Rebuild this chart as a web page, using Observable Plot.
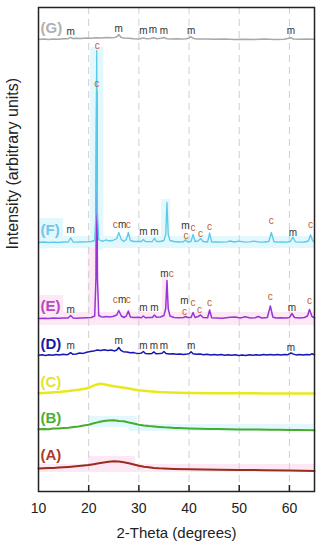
<!DOCTYPE html>
<html><head><meta charset="utf-8">
<script src="https://cdn.jsdelivr.net/npm/d3@7"></script>
<script src="https://cdn.jsdelivr.net/npm/@observablehq/plot@0.6"></script>
<style>
body{margin:0;background:#fff;}
#chart svg{display:block;font-family:"Liberation Sans",Arial,sans-serif;}
</style></head><body><div id="chart"></div>
<script>
// ---- data (2-theta in degrees, intensity in arbitrary units) ----
const xTicks = [10, 20, 30, 40, 50, 60];
const gridTicks = [20, 30, 40, 50, 60];
const sampleNames = ["(A)", "(B)", "(C)", "(D)", "(E)", "(F)", "(G)"];
const sampleColors = ["#9a2c1c", "#45ad2a", "#e8e81c", "#1616b4", "#9a34d6", "#5cc8ea", "#a8a8a8"];
const labelColors = ["#b03a22", "#4aae2e", "#e4e42a", "#1a1aa4", "#b848c0", "#70c6ea", "#b0b0b0"];
const strokeWidths = [2, 2, 2.5, 1.5, 1.5, 1.3, 1.5];
const offsets = [22, 62, 98, 137, 173, 249, 453];
const labelHeights = [14, 11.7, 11.3, 10.7, 12, 12.7, 10];

const traceA = [[10,1],[11,1.2],[12,1.5],[13,1.6],[14,2],[15,2.3],[16,2.6],[17,3],[18,3.4],[19,3.9],[20,4.5],[21,5.3],[22,6.2],[23,7],[24,7.8],[25,8.3],[26,8],[27,7.2],[28,6.2],[29,5],[30,3.8],[31,2.8],[32,2.2],[33,1.6],[34,1.2],[35,1],[37,0.6],[40,0.2],[43,0],[46,-0.2],[50,-0.4],[55,-0.7],[60,-1],[65,-1.5]];
const traceB = [[10,0.3],[11,0.6],[12,0.3],[13,1],[14,0.9],[15,1.6],[16,1.8],[17,2.6],[18,3],[19,4],[20,4.8],[21,6.2],[22,7.4],[23,8.4],[24,9.1],[25,9.2],[26,8.6],[27,8.2],[28,7],[29,6],[30,4.8],[31,4],[32,3.4],[33,3],[34,2.6],[35,2.2],[36,2],[37,1.6],[38,1.4],[39,1.2],[40,1],[42,0.8],[44,0.5],[46,0.4],[48,0.2],[50,0.1],[52,0],[54,-0.1],[56,-0.2],[58,-0.3],[60,-0.4],[62,-0.5],[65,-0.7]];
const traceC = [[10,0.3],[12,0.8],[14,1.5],[16,2.5],[18,3.8],[19.5,5],[20.5,6.8],[21.5,8.8],[22.3,9.8],[23,9.3],[24,8.2],[25,7.3],[26,6.5],[27,5.8],[28,5],[29,4],[30,3.2],[32,2.2],[34,1.5],[36,1.1],[38,0.8],[40,0.6],[45,0.3],[50,0.2],[55,0.1],[60,0],[65,0]];
const traceD = [[10,-0.8],[10.7,-0.2],[11.4,-0.9],[12.1,-0.3],[12.8,-0.7],[13.5,0],[14.2,-0.5],[14.9,0.2],[15.6,-0.2],[16,0.3],[16.4,1.8],[16.8,0.3],[17.5,0.6],[18.2,1.4],[18.9,1.1],[19.6,2.2],[20.3,2.9],[21,3.4],[21.7,4.5],[22.4,4.1],[23.1,4.8],[23.8,4],[24.5,4.4],[25.2,3.6],[25.6,4.5],[26,7],[26.4,4.2],[26.9,2.8],[27.6,2.6],[28.3,1.7],[29,1.9],[29.7,0.9],[30.4,1.2],[30.9,3],[31.3,1],[32,0.7],[32.6,1.1],[33,2.6],[33.4,0.8],[34.1,0.9],[34.6,1.2],[35,3],[35.4,1],[36.1,0.4],[36.8,0.8],[37.5,0.2],[38.2,0.6],[38.9,0.1],[39.6,0.5],[40,0.8],[40.4,2.8],[40.8,0.7],[41.5,0.2],[42.2,0.5],[42.9,-0.2],[43.6,0.3],[44.3,-0.4],[45,0],[45.7,-0.6],[46.4,-0.1],[47.1,-0.7],[47.8,-0.2],[48.5,-0.8],[49.2,-0.3],[49.9,-0.9],[50.6,-0.4],[51.3,-0.9],[52,-0.3],[52.7,-0.8],[53.4,-0.2],[54.1,-0.7],[54.8,0.1],[55.5,-0.5],[56.2,-0.1],[56.9,-0.6],[57.6,0],[58.3,-0.5],[59,0.1],[59.7,-0.2],[60.3,1.5],[60.7,0.6],[61.3,-0.4],[62,0.1],[62.7,-0.5],[63.4,0],[64.1,-0.3],[64.5,0.8],[65,-0.2]];
const traceE = [[10,0],[11,0.3],[12,0],[13,0.5],[14,0.2],[15,0.4],[15.9,0.5],[16.4,3],[16.9,0.5],[17.5,0.3],[18.5,0.5],[19.5,0.8],[20.5,1],[21.2,2.5],[21.45,40],[21.6,228],[21.75,40],[22,3],[22.5,1.8],[23,1.5],[23.5,2],[24,1.5],[24.8,2],[25.6,3.5],[26,8],[26.5,2.5],[27,1],[27.5,2.5],[27.9,7.5],[28.3,1.5],[29,1],[30,1.2],[30.5,0.8],[30.9,2.5],[31.3,0.8],[32,1],[32.7,1],[33.1,3.5],[33.5,1.2],[34.3,1.5],[35,3],[35.35,10],[35.6,38],[35.85,10],[36.2,2.5],[37,1],[38,0.8],[38.9,1],[39.3,2],[39.7,1],[40.4,1],[40.8,6],[41.2,1],[41.8,2],[42.3,3.5],[42.8,1],[43.7,0.8],[44.1,8.5],[44.5,0.8],[45.5,0.5],[46.5,0.3],[47.5,0.8],[48.2,1.2],[49.2,1.5],[50.2,0.5],[51.2,1.8],[52.2,0.5],[53.2,0.8],[53.8,2],[54.5,0.5],[55.6,1],[56.2,12.5],[56.7,1.5],[57.3,0.5],[58.3,0.7],[59.3,0.5],[60,1],[60.5,5],[61,1],[62,0.5],[63,1],[63.6,2.5],[64,9],[64.5,2],[65,0.5]];
const traceF = [[10,0],[11,0.5],[12,0],[13,0.3],[14,0],[15,0.5],[15.9,0.3],[16.4,4.7],[16.9,0.5],[17.5,0.3],[18.5,0.5],[19.5,0.7],[20.5,1],[21.2,2],[21.45,30],[21.6,192],[21.75,30],[22,3],[22.5,1.5],[23,1.5],[23.5,2.7],[24,1.5],[24.8,2],[25.6,4],[26,10],[26.5,3],[27,1],[27.5,3],[27.9,10],[28.3,2],[29,1],[30,1],[30.5,1],[30.9,3],[31.3,1],[32,0.8],[32.7,1],[33.1,4.3],[33.5,1],[34.3,1],[35,2],[35.35,8],[35.6,40],[35.85,8],[36.2,2],[37,1],[38,0.5],[38.9,0.7],[39.3,2.7],[39.7,0.5],[40.4,1],[40.8,8],[41.2,1],[41.8,1.5],[42.3,4],[42.8,1],[43.7,0.5],[44.1,9.7],[44.5,0.5],[45.5,0.5],[46.5,0.3],[47.5,0.7],[48.2,1.5],[49,0.5],[50,1.3],[51,0.3],[52,0.7],[53,1.3],[54,0.3],[55,0.5],[55.9,1],[56.4,10],[56.9,1],[57.5,0.3],[58.5,0.5],[59.5,0.3],[60.2,1],[60.7,5.3],[61.2,0.7],[62,0.3],[63,0.5],[63.8,1.5],[64.2,7.7],[64.6,2],[65,0.5]];
const traceG = [[10,-1],[11,-0.6],[12,-1],[13,-0.5],[14,-0.8],[15,-0.3],[15.9,-0.2],[16.4,1.2],[16.8,0],[17.5,0.2],[18.5,0],[19.5,0.5],[20.5,0.3],[21.5,0.8],[22.5,0.6],[23.5,1],[24.5,0.7],[25.2,1.1],[25.7,2],[26,4],[26.4,1.2],[27,0.5],[28,0.2],[29,-0.2],[30,-0.4],[30.9,0.6],[31.5,-0.3],[32.3,0],[33,0.8],[33.6,-0.2],[34.4,0.2],[35,1],[35.6,-0.2],[36.5,-0.4],[37.5,-0.3],[38.5,-0.6],[39.5,-0.2],[40,0.5],[40.4,1.8],[40.8,0.2],[41.5,-0.4],[42.5,-0.6],[43.5,-0.5],[45,-0.8],[47,-0.6],[49,-0.9],[51,-0.7],[53,-0.9],[55,-0.6],[57,-0.9],[59,-0.7],[60.3,0.8],[60.8,-0.5],[62,-0.8],[63.5,-0.6],[65,-0.8]];

// peak annotations: [2-theta, height above the pattern baseline, phase letter]
const peaksD = [[16.4,8.3,"m"],[26.0,13.3,"m"],[30.9,8.3,"m"],[33.0,8.3,"m"],[35.0,8.3,"m"],[40.4,8.3,"m"],[60.3,6.7,"m"]];
const peaksE = [[16.4,8.7,"m"],[21.6,235,"c"],[25.3,18.7,"c"],[26.65,18.7,"m"],[27.9,18.7,"c"],[30.9,10.3,"m"],[33.1,10.3,"m"],[35.1,44.7,"m"],[36.45,44.7,"c"],[39.1,17.5,"m"],[39.1,7.2,"c"],[40.8,15.3,"c"],[42.1,8.7,"c"],[44.1,15.3,"c"],[56.2,22,"c"],[60.5,10.3,"m"],[64.0,18,"c"]];
const peaksF = [[16.4,12.7,"m"],[21.7,197,"c"],[25.3,18,"c"],[26.65,18,"m"],[27.9,18,"c"],[30.9,10.3,"m"],[33.1,10.3,"m"],[39.3,17,"m"],[39.4,6.8,"c"],[40.8,14.7,"c"],[42.3,8.7,"c"],[44.1,16,"c"],[56.4,22,"c"],[60.7,9.7,"m"],[64.2,18,"c"]];
const peaksG = [[16.4,6.3,"m"],[26.0,9.7,"m"],[30.9,8,"m"],[32.8,8.7,"m"],[35.0,7.3,"m"],[40.4,8,"m"],[60.3,8,"m"]];

// faint highlight bands seen in the source image: [x1, x2, y1, y2, colour]
const highlights = [
  [20.4,23.0,241,444,"cyan"],[19.9,21.7,171,248,"pink"],
  [10,65,243,255,"cyan"],[10,15,248,273,"cyan"],
  [10,65,166,179,"pink"],[10,15,171,196,"pink"],
  [34.5,36.3,246,292,"cyan"],[34.7,35.9,171,216,"pink"],
  [20,29.7,64,75,"cyan"],[28,64.8,60,67,"cyan"],
  [10,65,19,27,"pink"],[20,29.3,27,35,"pink"]
];

// ---- build tables ----
const traces = [traceA, traceB, traceC, traceD, traceE, traceF, traceG];
const lineRows = traces.map((t, i) => t.map(([x, v]) => ({x, y: offsets[i] + v})));
const labelRows = sampleNames.map((name, i) => ({name, x: 10.4, y: offsets[i] + labelHeights[i], color: labelColors[i]}));
const peakRows = [[3, peaksD], [4, peaksE], [5, peaksF], [6, peaksG]].flatMap(([i, p]) => p.map(([x, h, t]) => ({x, y: offsets[i] + h, t})));
const hlFill = {cyan: "#e2f8fc", pink: "#fde8f5"};

const marks = [
  Plot.rect(highlights, {x1: d => d[0], x2: d => d[1], y1: d => d[2], y2: d => d[3], fill: d => hlFill[d[4]]}),
  Plot.ruleX(gridTicks, {stroke: "#cfcfcf", strokeDasharray: "7,5", strokeWidth: 1}),
  ...lineRows.map((rows, i) => Plot.line(rows, {x: "x", y: "y", stroke: sampleColors[i], strokeWidth: strokeWidths[i], curve: "linear"})),
  Plot.text(peakRows.filter(d => d.t === "m"), {x: "x", y: "y", text: "t", fill: "#333", fontSize: 10}),
  Plot.text(peakRows.filter(d => d.t === "c"), {x: "x", y: "y", text: "t", fill: "#c0602c", fontSize: 10}),
  ...labelRows.map(d => Plot.text([d], {x: "x", y: "y", text: "name", fill: d.color, fontSize: 15, fontWeight: "bold", textAnchor: "start"})),
  Plot.ruleX(gridTicks, {y1: 0, y2: 6, stroke: "#222", strokeWidth: 1.5}),
  Plot.axisX(xTicks, {tickSize: 0, tickPadding: 12, fontSize: 14, color: "#222"}),
  Plot.text(["2-Theta (degrees)"], {frameAnchor: "bottom", dy: 46, fontSize: 15, fill: "#222"}),
  Plot.text(["Intensity (arbitrary units)"], {frameAnchor: "left", dx: -26, rotate: -90, fontSize: 16, fill: "#222"}),
  Plot.frame({stroke: "#222", strokeWidth: 1.5})
];

const chart = Plot.plot({
  width: 320, height: 550,
  marginLeft: 38, marginRight: 6, marginTop: 7, marginBottom: 59,
  style: {fontFamily: "'Liberation Sans', Arial, sans-serif", background: "#fff"},
  x: {domain: [10, 65], label: null},
  y: {domain: [0, 484], axis: null},
  marks
});
document.getElementById("chart").appendChild(chart);
</script></body></html>
